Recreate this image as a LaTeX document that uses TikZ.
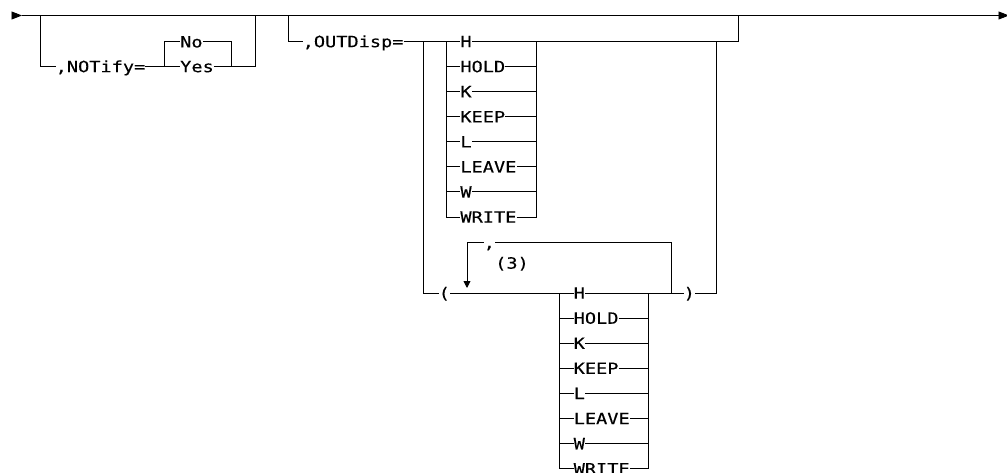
\documentclass[tikz,border=0pt]{standalone}
\usepackage{fontspec}
\setmonofont[FakeStretch=1.2,FakeBold=0.3]{DejaVu Sans Mono}
\usetikzlibrary{arrows.meta}
\tikzset{
  rr/.style={line width=0.9pt},
  kw/.style={font=\ttfamily\fontsize{15.5}{15.5}\selectfont, inner xsep=0pt, inner ysep=0pt,
             text height=11.3pt, text depth=0pt, anchor=west},
  tipA/.style={-{Triangle[length=10.5pt,width=8pt]}},
  tipB/.style={-{Triangle[length=7pt,width=7pt]}},
}
\begin{document}
\begin{tikzpicture}[x=1pt,y=-1pt]
\useasboundingbox (0,0) rectangle (1007,473);
% main line coordinates
\coordinate (s0) at (12,15.5);
\coordinate (s1) at (22,15.5);
\coordinate (a1) at (40.7,15.5);
\coordinate (a2) at (255,15.5);
\coordinate (b1) at (288,15.5);
\coordinate (b2) at (738,15.5);
\coordinate (e) at (1009,15.5);
\draw[rr,tipA] (s0) -- (s1);
\draw[rr,tipA] (s1) -- (e);
% NOTify
\node[kw] (notify) at (55.5,66.5) {,NOTify=};
\node[kw] (no) at (180,41.8) {No};
\node[kw] (yes) at (180,66.5) {Yes};
\coordinate (n1) at (164.3,66.5);
\coordinate (n2) at (231.7,66.5);
\draw[rr] (a1) |- (notify.west);
\draw[rr] (notify.east) -- (yes.west);
\draw[rr] (n1) |- (no.west);
\draw[rr] (no.east) -| (n2);
\draw[rr] (yes.east) -| (a2);
% OUTDisp
\node[kw] (outdisp) at (302.5,41.5) {,OUTDisp=};
\coordinate (c1) at (446,41.5);
\coordinate (c2) at (536,41.5);
\coordinate (vL) at (423.3,41.5);
\coordinate (vR) at (716,41.5);
\foreach \t [count=\i from 0] in {H,HOLD,K,KEEP,L,LEAVE,W,WRITE}{
  \node[kw] (u\i) at (460.2,41.5+25.07*\i) {\t};
}
\foreach \t [count=\i from 0] in {H,HOLD,K,KEEP,L,LEAVE,W,WRITE}{
  \node[kw] (d\i) at (573.5,293+25.1*\i) {\t};
}
\draw[rr] (b1) |- (outdisp.west);
\draw[rr] (outdisp.east) -- (u0.west);
\draw[rr] (u0.east) -| (b2);
\foreach \i in {1,...,7}{
  \draw[rr] (c1) |- (u\i.west);
  \draw[rr] (u\i.east) -| (c2);
}
% parenthesised list
\node[kw] (lp) at (438.5,293) {(};
\node[kw] (rp) at (683.5,293) {)};
\node[kw] (comma) at (483.5,242.5) {,};
\node[kw] (three) at (495,263) {(3)};
\coordinate (e1) at (559,293);
\coordinate (e2) at (648,293);
\coordinate (r1) at (467,288);
\coordinate (r2) at (671,293);
\draw[rr] (vL) |- (lp.west);
\draw[rr] (lp.east) -- (d0.west);
\draw[rr] (d0.east) -- (rp.west);
\draw[rr] (rp.east) -| (vR);
\foreach \i in {1,...,7}{
  \draw[rr] (e1) |- (d\i.west);
  \draw[rr] (d\i.east) -| (e2);
}
\draw[rr] (r2) |- (comma.east);
\draw[rr,tipB] (comma.west) -| (r1);
\end{tikzpicture}
\end{document}
